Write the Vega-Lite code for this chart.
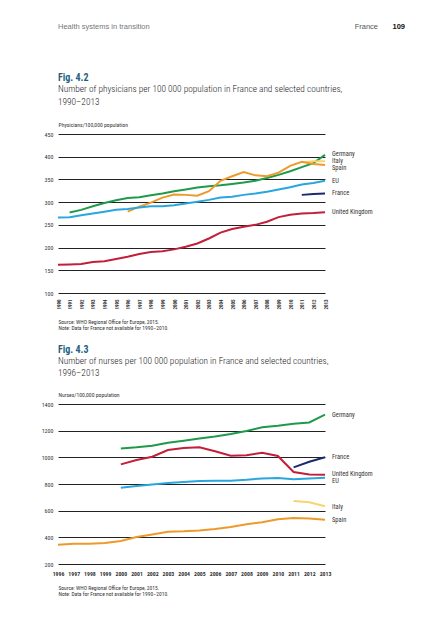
{
  "$schema": "https://vega.github.io/schema/vega-lite/v6.json",
  "background": "white",
  "padding": {"left": 41, "top": 22, "right": 5, "bottom": 5},
  "bounds": "flush",
  "spacing": 111,
  "config": {
    "font": "Roboto Condensed",
    "view": {"stroke": null}
  },
  "datasets": {
    "header": [
      {"t": "Health systems in transition", "side": "left"},
      {"t": "France", "side": "right"},
      {"t": "109", "side": "right"}
    ],
    "phys": [
      {"country": "Germany", "year": 1991, "value": 277},
      {"country": "Germany", "year": 1992, "value": 283},
      {"country": "Germany", "year": 1993, "value": 291},
      {"country": "Germany", "year": 1994, "value": 298},
      {"country": "Germany", "year": 1995, "value": 304},
      {"country": "Germany", "year": 1996, "value": 309},
      {"country": "Germany", "year": 1997, "value": 311},
      {"country": "Germany", "year": 1998, "value": 315},
      {"country": "Germany", "year": 1999, "value": 319},
      {"country": "Germany", "year": 2000, "value": 324},
      {"country": "Germany", "year": 2001, "value": 328},
      {"country": "Germany", "year": 2002, "value": 332},
      {"country": "Germany", "year": 2003, "value": 335},
      {"country": "Germany", "year": 2004, "value": 337},
      {"country": "Germany", "year": 2005, "value": 340},
      {"country": "Germany", "year": 2006, "value": 343},
      {"country": "Germany", "year": 2007, "value": 347},
      {"country": "Germany", "year": 2008, "value": 353},
      {"country": "Germany", "year": 2009, "value": 360},
      {"country": "Germany", "year": 2010, "value": 368},
      {"country": "Germany", "year": 2011, "value": 377},
      {"country": "Germany", "year": 2012, "value": 386},
      {"country": "Germany", "year": 2013, "value": 404},
      {"country": "Italy", "year": 2011, "value": 388},
      {"country": "Italy", "year": 2012, "value": 390},
      {"country": "Italy", "year": 2013, "value": 390},
      {"country": "Spain", "year": 1996, "value": 279},
      {"country": "Spain", "year": 1997, "value": 290},
      {"country": "Spain", "year": 1998, "value": 299},
      {"country": "Spain", "year": 1999, "value": 310},
      {"country": "Spain", "year": 2000, "value": 317},
      {"country": "Spain", "year": 2001, "value": 316},
      {"country": "Spain", "year": 2002, "value": 314},
      {"country": "Spain", "year": 2003, "value": 324},
      {"country": "Spain", "year": 2004, "value": 347},
      {"country": "Spain", "year": 2005, "value": 357},
      {"country": "Spain", "year": 2006, "value": 366},
      {"country": "Spain", "year": 2007, "value": 359},
      {"country": "Spain", "year": 2008, "value": 357},
      {"country": "Spain", "year": 2009, "value": 365},
      {"country": "Spain", "year": 2010, "value": 380},
      {"country": "Spain", "year": 2011, "value": 389},
      {"country": "Spain", "year": 2012, "value": 384},
      {"country": "Spain", "year": 2013, "value": 382},
      {"country": "EU", "year": 1990, "value": 266},
      {"country": "EU", "year": 1991, "value": 267},
      {"country": "EU", "year": 1992, "value": 271},
      {"country": "EU", "year": 1993, "value": 275},
      {"country": "EU", "year": 1994, "value": 279},
      {"country": "EU", "year": 1995, "value": 283},
      {"country": "EU", "year": 1996, "value": 285},
      {"country": "EU", "year": 1997, "value": 288},
      {"country": "EU", "year": 1998, "value": 291},
      {"country": "EU", "year": 1999, "value": 291},
      {"country": "EU", "year": 2000, "value": 293},
      {"country": "EU", "year": 2001, "value": 297},
      {"country": "EU", "year": 2002, "value": 301},
      {"country": "EU", "year": 2003, "value": 305},
      {"country": "EU", "year": 2004, "value": 310},
      {"country": "EU", "year": 2005, "value": 312},
      {"country": "EU", "year": 2006, "value": 316},
      {"country": "EU", "year": 2007, "value": 319},
      {"country": "EU", "year": 2008, "value": 323},
      {"country": "EU", "year": 2009, "value": 328},
      {"country": "EU", "year": 2010, "value": 333},
      {"country": "EU", "year": 2011, "value": 339},
      {"country": "EU", "year": 2012, "value": 342},
      {"country": "EU", "year": 2013, "value": 347},
      {"country": "France", "year": 2011, "value": 316},
      {"country": "France", "year": 2012, "value": 318},
      {"country": "France", "year": 2013, "value": 319},
      {"country": "United Kingdom", "year": 1990, "value": 162},
      {"country": "United Kingdom", "year": 1991, "value": 163},
      {"country": "United Kingdom", "year": 1992, "value": 164},
      {"country": "United Kingdom", "year": 1993, "value": 168},
      {"country": "United Kingdom", "year": 1994, "value": 170},
      {"country": "United Kingdom", "year": 1995, "value": 175},
      {"country": "United Kingdom", "year": 1996, "value": 180},
      {"country": "United Kingdom", "year": 1997, "value": 186},
      {"country": "United Kingdom", "year": 1998, "value": 190},
      {"country": "United Kingdom", "year": 1999, "value": 192},
      {"country": "United Kingdom", "year": 2000, "value": 196},
      {"country": "United Kingdom", "year": 2001, "value": 202},
      {"country": "United Kingdom", "year": 2002, "value": 209},
      {"country": "United Kingdom", "year": 2003, "value": 220},
      {"country": "United Kingdom", "year": 2004, "value": 233},
      {"country": "United Kingdom", "year": 2005, "value": 241},
      {"country": "United Kingdom", "year": 2006, "value": 246},
      {"country": "United Kingdom", "year": 2007, "value": 250},
      {"country": "United Kingdom", "year": 2008, "value": 257},
      {"country": "United Kingdom", "year": 2009, "value": 267},
      {"country": "United Kingdom", "year": 2010, "value": 272},
      {"country": "United Kingdom", "year": 2011, "value": 275},
      {"country": "United Kingdom", "year": 2012, "value": 276},
      {"country": "United Kingdom", "year": 2013, "value": 278}
    ],
    "physLabels": [
      {"country": "Germany", "year": 2013, "value": 406},
      {"country": "Italy", "year": 2013, "value": 390},
      {"country": "Spain", "year": 2013, "value": 375},
      {"country": "EU", "year": 2013, "value": 347},
      {"country": "France", "year": 2013, "value": 320},
      {"country": "United Kingdom", "year": 2013, "value": 278}
    ],
    "nurses": [
      {"country": "Germany", "year": 2000, "value": 1067},
      {"country": "Germany", "year": 2001, "value": 1075},
      {"country": "Germany", "year": 2002, "value": 1087},
      {"country": "Germany", "year": 2003, "value": 1110},
      {"country": "Germany", "year": 2004, "value": 1125},
      {"country": "Germany", "year": 2005, "value": 1142},
      {"country": "Germany", "year": 2006, "value": 1157},
      {"country": "Germany", "year": 2007, "value": 1175},
      {"country": "Germany", "year": 2008, "value": 1197},
      {"country": "Germany", "year": 2009, "value": 1225},
      {"country": "Germany", "year": 2010, "value": 1237},
      {"country": "Germany", "year": 2011, "value": 1252},
      {"country": "Germany", "year": 2012, "value": 1262},
      {"country": "Germany", "year": 2013, "value": 1320},
      {"country": "United Kingdom", "year": 2000, "value": 947},
      {"country": "United Kingdom", "year": 2001, "value": 980},
      {"country": "United Kingdom", "year": 2002, "value": 1005},
      {"country": "United Kingdom", "year": 2003, "value": 1055},
      {"country": "United Kingdom", "year": 2004, "value": 1070},
      {"country": "United Kingdom", "year": 2005, "value": 1075},
      {"country": "United Kingdom", "year": 2006, "value": 1045},
      {"country": "United Kingdom", "year": 2007, "value": 1012},
      {"country": "United Kingdom", "year": 2008, "value": 1015},
      {"country": "United Kingdom", "year": 2009, "value": 1035},
      {"country": "United Kingdom", "year": 2010, "value": 1010},
      {"country": "United Kingdom", "year": 2011, "value": 890},
      {"country": "United Kingdom", "year": 2012, "value": 872},
      {"country": "United Kingdom", "year": 2013, "value": 870},
      {"country": "France", "year": 2011, "value": 925},
      {"country": "France", "year": 2012, "value": 967},
      {"country": "France", "year": 2013, "value": 1000},
      {"country": "EU", "year": 2000, "value": 772},
      {"country": "EU", "year": 2001, "value": 785},
      {"country": "EU", "year": 2002, "value": 797},
      {"country": "EU", "year": 2003, "value": 807},
      {"country": "EU", "year": 2004, "value": 815},
      {"country": "EU", "year": 2005, "value": 822},
      {"country": "EU", "year": 2006, "value": 825},
      {"country": "EU", "year": 2007, "value": 825},
      {"country": "EU", "year": 2008, "value": 832},
      {"country": "EU", "year": 2009, "value": 842},
      {"country": "EU", "year": 2010, "value": 845},
      {"country": "EU", "year": 2011, "value": 835},
      {"country": "EU", "year": 2012, "value": 842},
      {"country": "EU", "year": 2013, "value": 847},
      {"country": "Italy", "year": 2011, "value": 672},
      {"country": "Italy", "year": 2012, "value": 663},
      {"country": "Italy", "year": 2013, "value": 633},
      {"country": "Spain", "year": 1996, "value": 345},
      {"country": "Spain", "year": 1997, "value": 352},
      {"country": "Spain", "year": 1998, "value": 352},
      {"country": "Spain", "year": 1999, "value": 357},
      {"country": "Spain", "year": 2000, "value": 372},
      {"country": "Spain", "year": 2001, "value": 402},
      {"country": "Spain", "year": 2002, "value": 422},
      {"country": "Spain", "year": 2003, "value": 442},
      {"country": "Spain", "year": 2004, "value": 445},
      {"country": "Spain", "year": 2005, "value": 452},
      {"country": "Spain", "year": 2006, "value": 462},
      {"country": "Spain", "year": 2007, "value": 478},
      {"country": "Spain", "year": 2008, "value": 498},
      {"country": "Spain", "year": 2009, "value": 513},
      {"country": "Spain", "year": 2010, "value": 535},
      {"country": "Spain", "year": 2011, "value": 545},
      {"country": "Spain", "year": 2012, "value": 542},
      {"country": "Spain", "year": 2013, "value": 532}
    ],
    "nurseLabels": [
      {"country": "Germany", "year": 2013, "value": 1320},
      {"country": "France", "year": 2013, "value": 1004},
      {"country": "United Kingdom", "year": 2013, "value": 874},
      {"country": "EU", "year": 2013, "value": 819},
      {"country": "Italy", "year": 2013, "value": 626},
      {"country": "Spain", "year": 2013, "value": 528}
    ]
  },
  "vconcat": [
    {
      "width": 347,
      "height": 1,
      "data": {"name": "header"},
      "encoding": {
        "x": {"field": "side", "type": "nominal", "scale": {"type": "point", "domain": ["left", "right"], "padding": 0}, "axis": null},
        "text": {"field": "t"}
      },
      "layer": [
        {
          "transform": [{"filter": "datum.t === 'Health systems in transition'"}],
          "mark": {"type": "text", "align": "left", "baseline": "middle", "dy": 4.5, "fontSize": 7.5, "color": "#777", "font": "Liberation Sans"}
        },
        {
          "transform": [{"filter": "datum.t === 'France'"}],
          "mark": {"type": "text", "align": "right", "baseline": "middle", "dy": 4.5, "dx": -27, "fontSize": 7.5, "color": "#555", "font": "Liberation Sans"}
        },
        {
          "transform": [{"filter": "datum.t === '109'"}],
          "mark": {"type": "text", "align": "right", "baseline": "middle", "dy": 4.5, "fontSize": 7.5, "fontWeight": "bold", "color": "#111", "font": "Liberation Sans"}
        }
      ]
    },
    {
      "width": 267,
      "height": 159,
      "title": {
        "text": "Fig. 4.2",
        "subtitle": ["Number of physicians per 100 000 population in France and selected countries,", "1990–2013"],
        "anchor": "start",
        "frame": "group",
        "font": "Roboto Condensed",
        "fontSize": 10,
        "fontWeight": "bold",
        "color": "#1f5f7f",
        "subtitleFont": "Roboto Condensed",
        "subtitleFontSize": 9.3,
        "subtitleFontWeight": 300,
        "subtitleColor": "#222",
        "subtitleLineHeight": 13,
        "subtitlePadding": 2,
        "offset": 14
      },
      "encoding": {
        "x": {
          "field": "year", "type": "ordinal",
          "scale": {"type": "point", "padding": 0},
          "axis": {
            "labelAngle": 270, "labelFontSize": 5, "labelFontWeight": "bold", "labelColor": "#333",
            "labelPadding": 6, "labelOverlap": false, "domain": false, "ticks": false, "grid": false,
            "title": ["Source: WHO Regional Office for Europe, 2015.", "Note: Data for France not available for 1990–2010."],
            "titleAnchor": "start", "titleAlign": "left", "titleX": 0, "titleY": 26, "titleBaseline": "top",
            "titleFontSize": 5.5, "titleFontWeight": "normal", "titleLineHeight": 6, "titleColor": "#333"
          }
        },
        "y": {
          "field": "value", "type": "quantitative",
          "scale": {"domain": [100, 450]},
          "axis": {
            "values": [100, 150, 200, 250, 300, 350, 400, 450], "format": "d", "labelOverlap": false,
            "labelFontSize": 6, "labelColor": "#333", "labelPadding": 5,
            "domain": false, "ticks": false, "grid": true, "gridColor": "#222", "gridWidth": 1.2,
            "title": "Physicians/100,000 population", "titleAngle": 0, "titleAlign": "left", "titleX": 0, "titleY": -10,
            "titleBaseline": "middle", "titleFontSize": 5.7, "titleFontWeight": "normal", "titleColor": "#333"
          }
        }
      },
      "layer": [
        {
          "data": {"name": "phys"},
          "mark": {"type": "line", "strokeWidth": 2},
          "encoding": {
            "color": {
              "field": "country", "type": "nominal",
              "scale": {"domain": ["Germany", "Italy", "Spain", "EU", "France", "United Kingdom"], "range": ["#1f9a4a", "#f7d56e", "#ee9a2a", "#2aa6df", "#1b2a6b", "#c21f3a"]},
              "legend": null
            }
          }
        },
        {
          "data": {"name": "physLabels"},
          "mark": {"type": "text", "align": "left", "baseline": "middle", "dx": 7, "fontSize": 6.5, "color": "#333"},
          "encoding": {
            "text": {"field": "country"},
            "fontWeight": {"condition": {"test": "datum.country === 'France'", "value": "bold"}, "value": "normal"}
          }
        }
      ]
    },
    {
      "width": 267,
      "height": 160,
      "title": {
        "text": "Fig. 4.3",
        "subtitle": ["Number of nurses per 100 000 population in France and selected countries,", "1996–2013"],
        "anchor": "start",
        "frame": "group",
        "font": "Roboto Condensed",
        "fontSize": 10,
        "fontWeight": "bold",
        "color": "#1f5f7f",
        "subtitleFont": "Roboto Condensed",
        "subtitleFontSize": 9.3,
        "subtitleFontWeight": 300,
        "subtitleColor": "#222",
        "subtitleLineHeight": 12,
        "subtitlePadding": 2,
        "offset": 13
      },
      "encoding": {
        "x": {
          "field": "year", "type": "ordinal",
          "scale": {"type": "point", "padding": 0},
          "axis": {
            "labelAngle": 0, "labelFontSize": 5.8, "labelFontWeight": "bold", "labelColor": "#333",
            "labelPadding": 6, "labelOverlap": false, "domain": false, "ticks": false, "grid": false,
            "title": ["Source: WHO Regional Office for Europe, 2015.", "Note: Data for France not available for 1990–2010."],
            "titleAnchor": "start", "titleAlign": "left", "titleX": 0, "titleY": 21, "titleBaseline": "top",
            "titleFontSize": 5.5, "titleFontWeight": "normal", "titleLineHeight": 6, "titleColor": "#333"
          }
        },
        "y": {
          "field": "value", "type": "quantitative",
          "scale": {"domain": [200, 1400]},
          "axis": {
            "values": [200, 400, 600, 800, 1000, 1200, 1400], "format": "d", "labelOverlap": false,
            "labelFontSize": 6, "labelColor": "#333", "labelPadding": 5,
            "domain": false, "ticks": false, "grid": true, "gridColor": "#222", "gridWidth": 1.2,
            "title": "Nurses/100,000 population", "titleAngle": 0, "titleAlign": "left", "titleX": 0, "titleY": -10,
            "titleBaseline": "middle", "titleFontSize": 5.7, "titleFontWeight": "normal", "titleColor": "#333"
          }
        }
      },
      "layer": [
        {
          "data": {"name": "nurses"},
          "mark": {"type": "line", "strokeWidth": 2},
          "encoding": {
            "color": {
              "field": "country", "type": "nominal",
              "scale": {"domain": ["Germany", "Italy", "Spain", "EU", "France", "United Kingdom"], "range": ["#1f9a4a", "#f7d56e", "#ee9a2a", "#2aa6df", "#1b2a6b", "#c21f3a"]},
              "legend": null
            }
          }
        },
        {
          "data": {"name": "nurseLabels"},
          "mark": {"type": "text", "align": "left", "baseline": "middle", "dx": 7, "fontSize": 6.5, "color": "#333"},
          "encoding": {
            "text": {"field": "country"},
            "fontWeight": {"condition": {"test": "datum.country === 'France'", "value": "bold"}, "value": "normal"}
          }
        }
      ]
    }
  ]
}
